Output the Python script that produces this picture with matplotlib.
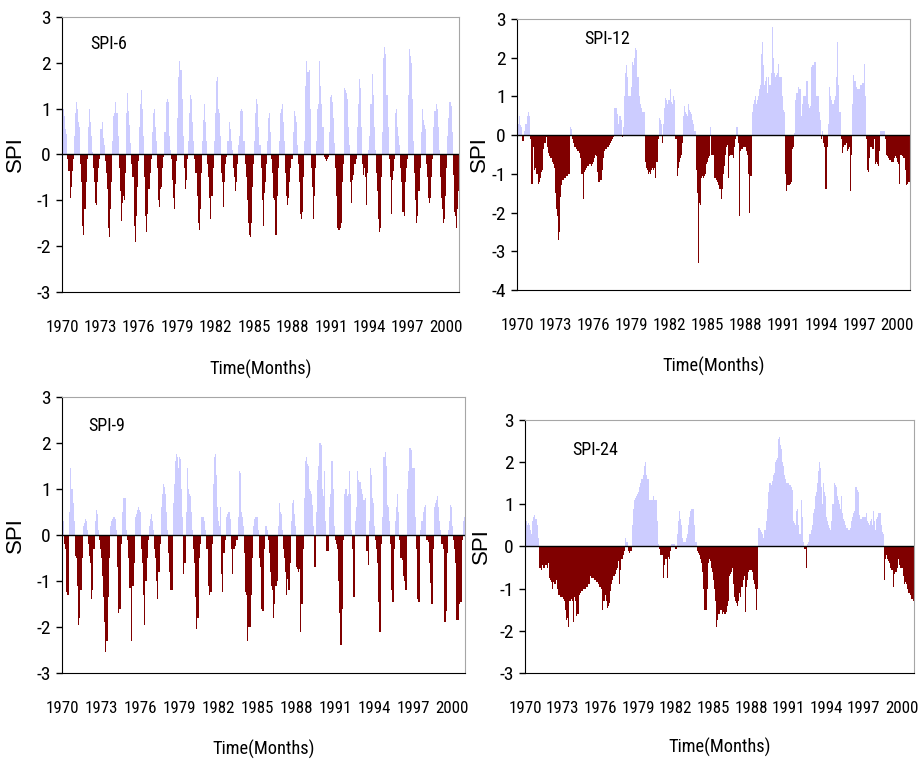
import numpy as np
import matplotlib.pyplot as plt
from matplotlib import font_manager as fm

plt.rcParams['axes.unicode_minus'] = False

' Buscamos una letra estrecha si hay alguna instalada; si no, Liberation Sans '

nombres = set(f.name for f in fm.fontManager.ttflist)
letra = "Liberation Sans"
for candidata in ["Liberation Sans Narrow", "Arial Narrow", "Roboto Condensed",
                  "Open Sans Condensed", "Noto Sans Condensed"]:
    if candidata in nombres:
        letra = candidata
        break
plt.rcParams['font.family'] = [letra, "Liberation Sans", "DejaVu Sans"]

' Etiquetas del eje x (una cada 36 meses) '

tick_years = [1970, 1973, 1976, 1979, 1982, 1985, 1988, 1991, 1994, 1997, 2000]

' Valores mensuales del SPI, 1970-2000, una fila por año '

spi6 = [
    0.7, 1.0, 0.85, 0.55, 0.45, -0.1, -0.35, -0.95, -0.7, -0.35, -0.1, 0.4,
    0.9, 1.15, 1.0, 0.7, 0.6, -0.2, -0.6, -1.55, -1.75, -1.2, -0.6, -0.1,
    0.6, 1.0, 0.7, 0.4, 0.05, -0.3, -0.6, -1.05, -1.1, -0.6, -0.3, -0.1,
    0.55, 0.7, 0.35, 0.2, -0.15, -0.4, -0.75, -1.6, -1.8, -1.2, -0.6, 0.3,
    0.85, 0.9, 1.15, 0.9, 0.4, -0.3, -0.8, -1.45, -1.05, -0.9, -1.0, -0.4,
    0.9, 1.35, 0.95, 0.65, 0.25, -0.2, -0.5, -1.55, -1.9, -1.35, -0.7, -0.15,
    0.6, 1.1, 1.4, 1.0, 0.4, -0.5, -1.35, -1.7, -1.3, -0.75, -0.4, -0.1,
    0.5, 0.9, 1.0, 0.6, 0.3, -0.3, -1.0, -1.15, -0.75, -0.7, -0.3, -0.05,
    0.5, 1.15, 1.2, 1.15, 0.4, 0.1, -0.1, -0.55, -0.95, -1.2, -0.65, -0.15,
    0.8, 1.7, 2.05, 1.85, 1.2, 0.4, -0.3, -0.75, -0.55, -0.1, 0.3, 0.9,
    1.3, 1.2, 0.7, 0.3, -0.1, -0.4, -0.9, -1.5, -1.65, -1.2, -0.4, 0.3,
    0.75, 1.1, 0.7, 0.3, -0.2, -0.5, -0.95, -1.4, -0.9, -0.3, 0.3, 0.9,
    1.6, 1.7, 1.0, 0.9, 0.4, -0.4, -0.6, -1.15, -0.6, -0.2, -0.05, 0.3,
    0.7, 0.55, 0.3, 0.1, -0.3, -0.5, -0.8, -0.6, -0.2, 0.2, 0.4, 0.95,
    1.0, 0.95, 0.3, -0.2, -0.5, -1.0, -1.5, -1.75, -1.8, -1.5, -0.7, -0.2,
    0.3, 0.9, 1.2, 1.1, 0.6, 0.2, -0.3, -1.0, -1.55, -0.85, -0.6, -0.2,
    0.3, 0.8, 0.9, 0.5, -0.1, -0.4, -0.95, -1.0, -1.75, -0.9, -0.3, 0.3,
    0.9, 1.0, 1.1, 0.7, 0.3, -0.4, -0.9, -1.1, -0.95, -0.6, -0.3, -0.1,
    0.5, 0.95, 0.85, 0.7, 0.2, -0.2, -0.6, -1.3, -1.4, -1.25, -0.5, 0.3,
    1.5, 2.05, 1.8, 1.85, 1.0, -0.3, -0.7, -1.4, -0.9, -0.3, 0.3, 1.0,
    1.1, 2.05, 1.5, 1.1, 0.6, -0.05, -0.1, -0.15, -0.1, -0.05, 0.5, 1.25,
    1.3, 1.15, 0.8, 0.25, -0.3, -0.9, -1.6, -1.65, -1.6, -1.5, -0.6, -0.2,
    1.45, 1.4, 1.35, 1.2, 0.6, 0.2, -0.6, -1.05, -0.55, -0.45, -0.2, -0.1,
    0.6, 1.1, 1.65, 1.45, 0.6, -0.2, -0.45, -0.3, -0.5, -1.1, -0.4, 0.1,
    0.4, 1.1, 1.75, 1.3, 0.6, 0.1, -0.4, -0.8, -1.4, -1.7, -1.6, -0.5,
    0.5, 2.1, 2.35, 2.2, 1.3, 0.6, -0.1, -0.5, -1.3, -0.55, -0.35, -0.1,
    0.9, 1.0, 0.6, 0.4, 0.2, -0.3, -0.6, -1.25, -1.35, -0.6, -0.3, -0.1,
    1.3, 2.3, 2.15, 2.0, 1.2, 0.3, -0.4, -1.0, -1.5, -1.35, -0.8, -0.3,
    0.5, 1.0, 0.75, 0.65, 0.55, -0.2, -0.5, -0.95, -1.05, -0.95, -0.5, -0.1,
    0.6, 0.95, 1.1, 1.0, 0.6, 0.1, -0.5, -0.95, -1.2, -1.5, -1.4, -0.9,
    -0.3, 0.4, 0.8, 1.15, 1.05, 0.5, -0.45, -1.25, -1.35, -1.6, -1.2, -0.8,
]

spi12 = [
    0.55, 0.3, 0.5, 0.25, 0.2, -0.15, -0.15, 0.1, 0.3, 0.5, 0.6, 0.5,
    -0.1, -1.25, -1.25, -0.3, -0.9, -0.85, -1.0, -1.0, -1.25, -1.2, -1.1, -0.95,
    -0.9, -0.35, -0.2, -0.05, -0.3, -0.45, -0.55, -0.6, -0.6, -0.7, -0.75, -0.85,
    -1.5, -1.9, -2.1, -2.7, -2.5, -1.6, -1.3, -1.15, -1.1, -1.1, -1.05, -1.05,
    -1.0, -1.0, 0.2, 0.15, -0.1, -0.2, -0.3, -0.3, -0.35, -0.4, -0.4, -0.45,
    -0.6, -1.0, -1.65, -0.95, -0.9, -0.85, -0.8, -0.8, -0.75, -0.75, -0.8, -0.75,
    -0.7, -0.6, -0.5, -0.55, -0.95, -1.2, -1.2, -1.15, -0.9, -0.6, -0.4, -0.35,
    -0.35, -0.3, -0.3, -0.25, -0.2, -0.15, -0.1, -0.05, 0.7, 0.7, 0.7, 0.55,
    0.3, 0.5, 0.4, -0.05, 0.2, 1.0, 1.6, 1.8, 1.5, 1.0, 1.0, 1.0,
    1.25, 1.9, 1.8, 2.0, 2.25, 2.2, 1.5, 1.0, 0.8, 0.7, 0.6, 0.6,
    0.6, -0.7, -0.85, -0.9, -1.0, -0.95, -1.0, -0.9, -0.85, -0.9, -0.85, -1.1,
    -0.7, -0.1, 0.45, 0.4, 0.3, -0.2, 0.3, 0.7, 0.95, 0.9, 0.8, 0.9,
    0.9, 1.2, 0.85, 0.8, 1.0, 0.9, -0.1, -1.05, -0.85, -0.7, -0.6, -0.5,
    -0.2, 0.5, 0.75, 0.6, 0.55, 0.5, 0.8, 0.65, 0.6, 0.55, 0.4, 0.3,
    0.1, -0.9, -1.5, -3.3, -1.75, -1.8, -1.1, -1.05, -1.1, -1.05, -1.0, -0.75,
    -0.7, -0.6, -0.55, 0.2, -0.5, -0.5, -1.1, -1.1, -1.15, -1.2, -1.3, -1.4,
    -1.4, -1.65, -1.4, -1.0, -0.8, -0.5, -0.3, -0.25, -1.1, -0.55, -0.5, -0.5,
    -0.6, -0.3, -0.1, 0.2, 0.2, -0.2, -2.1, -0.4, -0.35, -0.35, -0.3, -0.3,
    -0.3, -0.4, -0.5, -1.0, -2.0, -1.05, 0.6, 0.8, 0.9, 1.0, 0.8, 0.9,
    1.0, 1.2, 1.3, 2.1, 2.4, 1.8, 1.3, 1.4, 1.5, 1.1, 1.5, 1.3,
    1.6, 2.8, 2.0, 1.6, 1.5, 1.55, 1.6, 1.85, 1.5, 1.5, 1.5, 1.0,
    0.65, 0.6, -1.0, -1.45, -1.3, -1.3, -1.25, -1.2, -0.35, -0.3, 0.05, 0.9,
    1.1, 1.1, 1.25, 1.2, 1.2, 0.5, 0.8, 1.0, 1.0, 1.0, 1.4, 0.8,
    0.7, 0.75, 1.75, 1.8, 1.8, 1.9, 1.9, 1.0, 1.0, 1.0, 0.6, 0.4,
    -0.1, 0.1, -0.2, -0.3, -1.4, -0.3, 0.3, 1.25, 1.0, 0.9, 0.8, 0.8,
    0.9, 1.0, 1.5, 2.4, 1.3, 0.6, 0.6, -0.1, -0.45, -0.3, -0.25, -0.2,
    -0.4, -0.35, -0.3, -1.45, -0.5, 0.8, 1.55, 1.4, 1.4, 1.25, 1.2, 1.2,
    1.2, 1.3, 1.3, 1.35, 1.85, 1.0, -0.1, -0.9, -0.95, -0.6, -0.3, -0.3,
    -0.35, -0.35, -0.1, -0.75, -0.7, -0.75, -0.8, -0.4, 0.1, 0.1, 0.1, 0.1,
    -0.1, -0.5, -0.55, -0.6, -0.65, -0.65, -0.7, -0.7, -0.7, -0.6, -0.55, -0.6,
    -0.7, -0.75, -1.25, -0.5, -0.55, -0.6, -0.6, -0.9, -1.3, -1.25, -1.2, -1.2,
]

spi9 = [
    0.3, 0.3, -0.2, -0.3, -1.25, -1.3, 0.5, 1.45, 1.0, 1.0, 0.7, 0.3,
    -0.45, -0.5, -1.1, -1.95, -1.8, -1.2, -0.5, 0.2, 0.25, 0.35, 0.3, 0.1,
    -0.2, -0.45, -0.6, -1.4, -1.2, -0.3, 0.3, 0.55, 0.45, 0.1, -0.1, -0.3,
    -0.5, -0.9, -1.35, -1.9, -2.55, -2.3, -1.35, -0.5, 0.2, 0.3, 0.35, 0.4,
    0.4, 0.35, 0.1, -0.7, -1.7, -1.6, -0.2, 0.5, 0.8, 0.8, 0.8, 0.1,
    -0.1, -0.5, -1.15, -1.15, -2.3, -1.1, -0.6, 0.4, 0.45, 0.55, 0.6, 0.55,
    0.5, -0.3, -0.6, -1.3, -1.95, -1.0, -0.5, -0.1, 0.2, 0.35, 0.45, 0.3,
    0.1, -0.3, -0.5, -1.0, -1.4, -0.8, -0.2, 0.6, 0.9, 1.1, 1.05, 0.9,
    0.5, 0.1, -0.4, -0.8, -1.2, -1.2, 0.7, 1.1, 1.6, 1.75, 1.7, 1.45,
    1.7, 1.65, 1.0, 0.4, -0.85, -0.6, 0.5, 1.45, 1.0, 0.9, 0.85, 0.5,
    0.1, -0.3, -0.6, -1.35, -2.05, -1.8, -0.5, -0.2, 0.4, 0.4, 0.4, 0.3,
    0.1, -0.3, -0.3, -1.1, -1.3, -1.25, -0.2, 1.1, 1.7, 1.75, 1.3, 0.6,
    0.3, 0.2, 0.6, -0.85, -1.25, -0.4, -0.1, 0.4, 0.45, 0.5, 0.5, 0.35,
    -0.3, -0.85, -0.3, -0.3, -0.25, -0.1, 0.4, 1.4, 1.35, 0.5, 0.4, 0.2,
    -0.4, -1.25, -1.3, -2.3, -2.0, -2.0, -1.3, -0.5, 0.2, 0.35, 0.4, 0.4,
    0.4, 0.1, -0.5, -0.7, -1.6, -1.65, -0.3, 0.2, 0.2, 0.1, -0.1, -0.4,
    -0.8, -1.1, -1.2, -1.8, -1.5, -1.1, -1.0, 0.2, 0.7, 0.5, 0.45, 0.1,
    -0.3, -0.5, -0.8, -1.3, -0.95, -1.2, -0.6, 0.3, 0.7, 0.75, 0.45, 0.2,
    -0.7, -0.75, -0.8, -0.75, -2.1, -1.5, -0.3, 0.8, 1.6, 1.7, 1.55, 1.5,
    1.0, 0.95, 0.9, 0.65, 0.2, -0.7, 0.5, 1.2, 1.5, 2.0, 2.0, 1.95,
    1.0, 0.85, 1.4, 0.3, -0.35, -0.35, 0.6, 0.9, 1.6, 1.6, 1.0, 0.2,
    -0.1, -0.2, -0.3, -1.0, -1.7, -2.4, -1.6, -0.1, 0.9, 1.0, 1.0, 0.85,
    0.9, 1.4, 0.9, 0.1, -0.3, -1.35, 0.3, 0.6, 1.4, 1.2, 1.15, 1.15,
    1.0, 0.9, 0.75, 0.75, 0.8, -0.35, -0.65, 0.3, 1.45, 1.3, 0.8, 0.7,
    0.2, -0.1, -0.3, -0.6, -1.45, -2.1, -0.2, 0.4, 1.7, 1.7, 1.8, 1.5,
    0.65, 0.6, 0.3, -0.2, -1.2, -1.45, -0.3, 0.3, 0.6, 0.9, 0.5, -0.1,
    -0.5, -0.5, -0.55, -0.9, -1.0, -1.2, 1.0, 1.4, 1.9, 1.9, 1.85, 1.45,
    1.45, 1.45, 0.4, -0.3, -1.4, -1.45, 0.1, 0.3, 0.3, 0.5, 0.6, 0.65,
    -0.1, -0.1, -0.15, -0.6, -1.05, -1.5, -0.3, 0.6, 0.7, 0.75, 0.85, 0.6,
    0.3, 0.1, -0.2, -0.2, -0.3, -1.9, -1.65, -0.4, 0.1, 0.3, 0.65, 0.6,
    0.2, -0.1, -0.3, -0.6, -1.85, -1.85, -1.5, -1.45, -1.45, -0.1, 0.3, 0.4,
]

spi24 = [
    1.1, 0.6, 0.5, 0.55, 0.5, 0.4, 0.3, 0.6, 0.7, 0.75, 0.65, 0.5,
    0.2, -0.5, -0.5, -0.55, -0.45, -0.5, -0.5, -0.45, -0.45, -0.5, -0.4, -0.75,
    -0.8, -0.85, -1.0, -0.85, -0.9, -0.9, -0.8, -1.0, -1.15, -1.2, -1.2, -1.2,
    -1.25, -1.3, -1.5, -1.75, -1.7, -1.9, -1.3, -1.3, -1.25, -1.3, -1.8, -1.2,
    -1.3, -1.65, -1.6, -1.6, -1.15, -1.1, -1.05, -1.0, -1.0, -1.0, -0.95, -0.95,
    -0.9, -0.9, -0.7, -0.75, -0.75, -0.75, -0.8, -0.8, -0.85, -0.85, -0.9, -0.95,
    -0.95, -1.0, -1.5, -1.3, -1.15, -1.3, -1.45, -1.4, -1.35, -1.05, -0.9, -0.8,
    -0.7, -0.7, -0.65, -0.55, -0.5, -0.35, -0.9, -0.55, -0.3, -0.3, -0.2, -0.1,
    0.2, 0.1, -0.1, -0.15, -0.1, -0.1, 0.5, 0.9, 1.1, 1.15, 1.2, 1.25,
    1.3, 1.4, 1.5, 1.6, 1.6, 1.7, 1.9, 2.0, 1.7, 1.6, 1.6, 1.1,
    1.1, 1.1, 1.2, 1.1, 1.1, 1.1, 0.6, 0.05, -0.05, -0.2, -0.2, -0.2,
    -0.75, -0.45, -0.3, -0.3, -0.75, -0.25, -0.3, -0.1, 0.05, 0.05, 0.05, -0.05,
    -0.05, 0.3, 0.6, 0.85, 0.65, 0.5, 0.2, 0.1, 0.1, 0.1, 0.2, 0.3,
    0.5, 0.7, 0.85, 0.9, 0.9, 0.9, 0.5, 0.1, -0.1, -0.15, -0.2, -0.3,
    -0.4, -0.6, -1.0, -1.5, -1.5, -1.5, -1.0, -0.4, -0.3, -0.35, -0.5, -0.6,
    -0.8, -1.0, -1.3, -1.9, -1.75, -1.6, -1.5, -1.5, -1.6, -1.55, -1.6, -1.6,
    -1.55, -1.4, -1.3, -0.7, -0.65, -0.6, -0.5, -0.9, -1.2, -1.3, -1.35, -1.4,
    -1.3, -1.1, -1.2, -0.95, -0.8, -0.7, -1.55, -0.95, -0.8, -0.6, -0.55, -0.55,
    -0.55, -0.6, -0.8, -0.9, -1.0, -1.5, -1.0, 0.45, 0.45, 0.4, 0.35, 0.3,
    0.2, 0.4, 0.6, 0.9, 1.3, 1.5, 1.5, 1.45, 1.55, 1.7, 1.75, 2.0,
    2.05, 2.1, 2.55, 2.6, 2.4, 2.3, 2.0, 1.9, 1.7, 1.6, 1.5, 1.5,
    1.45, 1.45, 1.4, 1.35, 0.6, 0.55, 0.5, 0.85, 0.9, 0.5, 0.3, 0.3,
    1.1, 0.7, 0.1, -0.05, -0.05, -0.5, 0.05, 0.1, 0.3, 0.4, 0.5, 0.8,
    0.9, 1.2, 1.3, 1.5, 1.8, 2.0, 1.85, 1.4, 1.0, 1.5, 1.3, 1.2,
    0.7, 0.6, 0.5, 0.45, 0.4, 0.6, 1.0, 1.5, 1.45, 1.4, 1.2, 1.1,
    1.0, 0.9, 1.2, 0.8, 0.65, 0.6, 0.5, 0.45, 0.45, 0.4, 0.4, 0.45,
    0.6, 0.7, 0.8, 0.85, 1.4, 1.35, 1.3, 0.75, 0.65, 0.65, 0.7, 0.7,
    0.7, 0.7, 0.8, 0.6, 0.55, 0.5, 0.6, 0.65, 0.5, 0.85, 0.6, 0.4,
    0.65, 0.7, 0.8, 0.8, 0.5, 0.35, 0.3, -0.8, -0.3, -0.2, -0.3, -0.35,
    -0.4, -0.5, -0.55, -0.55, -0.95, -0.65, -0.6, -0.6, -0.5, -0.3, -0.45, -0.5,
    -0.5, -0.7, -0.9, -0.85, -0.9, -1.0, -1.1, -1.1, -1.15, -1.25, -1.25, -1.3,
]


fig = plt.figure(figsize=(9.19, 7.64), dpi=100)
renderer = fig.canvas.get_renderer()


def tam_para(texto, ancho_px):
    ' tamaño de letra para que el texto mida ancho_px de ancho '
    t = fig.text(0, 0, texto, fontsize=10)
    w = t.get_window_extent(renderer).width
    t.remove()
    return 10 * ancho_px / w


tam_x = tam_para("1970", 33)
tam_y = 14
tam_nombre = tam_para("SPI-6", 37)
tam_titulo = tam_para("Time(Months)", 102)


def panel(rect, valores, nombre, ymin, xy_nombre, xy_ylabel, y_xlabel):
    ax = fig.add_axes(rect)
    v = np.array(valores)
    assert len(v) == 372
    meses = np.arange(len(v)) + 0.5
    colores = np.where(v >= 0, "#CCCCFF", "#800000")
    ax.bar(meses, v, width=1.0, color=colores, linewidth=0)
    ax.axhline(0, color="black", lw=1.0)
    ax.set_xlim(0, len(v))
    ax.set_ylim(ymin, 3)
    ax.set_yticks(range(ymin, 4))
    ax.set_xticks(np.arange(0, 361, 36))
    ax.set_xticklabels([str(a) for a in tick_years])
    ax.tick_params(axis="x", length=0, pad=20, labelsize=tam_x)
    ax.tick_params(axis="y", length=4, width=1, pad=4, labelsize=tam_y, direction="out")
    for lado in ["top", "right"]:
        ax.spines[lado].set_color("#A6A6A6")
    for lado in ["left", "bottom"]:
        ax.spines[lado].set_color("black")
    ax.text(xy_nombre[0], xy_nombre[1], nombre, transform=ax.transAxes,
            fontsize=tam_nombre, va="center", ha="left")
    ax.set_ylabel("SPI", fontsize=16, family=["Liberation Sans", "DejaVu Sans"])
    ax.yaxis.set_label_coords(xy_ylabel[0], xy_ylabel[1])
    ax.set_xlabel("Time(Months)", fontsize=tam_titulo)
    ax.xaxis.set_label_coords(0.5, y_xlabel)
    return ax


panel([0.0675, 0.6178, 0.432, 0.360], spi6, "SPI-6", -3, (0.07, 0.902), (-0.09, 0.5), -0.247)
panel([0.5626, 0.6204, 0.4276, 0.3547], spi12, "SPI-12", -4, (0.17, 0.926), (-0.069, 0.5), -0.247)
panel([0.0675, 0.1191, 0.4385, 0.3613], spi9, "SPI-9", -3, (0.065, 0.895), (-0.089, 0.5), -0.243)
panel([0.5713, 0.1191, 0.4233, 0.3312], spi24, "SPI-24", -3, (0.121, 0.881), (-0.085, 0.5), -0.257)

plt.savefig("out.png", dpi=100)
